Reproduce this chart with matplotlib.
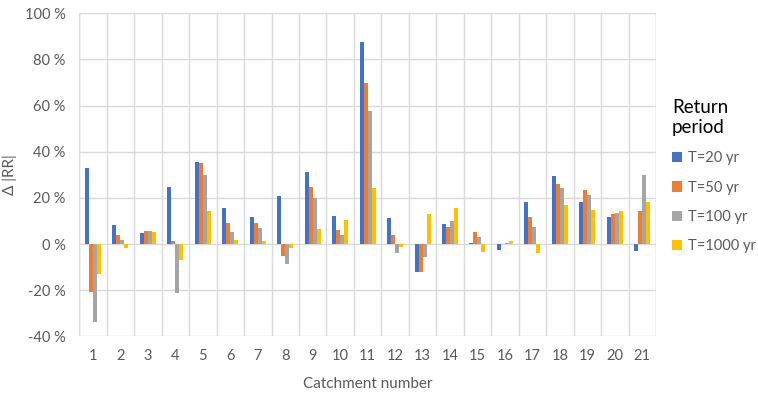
import matplotlib
matplotlib.use("Agg")
import matplotlib.pyplot as plt
import numpy as np
from matplotlib.ticker import FuncFormatter, MultipleLocator

catchments = [str(i) for i in range(1, 22)]
t20 = [32.8, 8.4, 4.9, 24.5, 35.4, 15.4, 11.9, 20.6, 31.0, 12.3, 87.5,
       11.4, -12.0, 8.8, 0.6, -2.5, 18.4, 29.3, 18.4, 11.9, -2.9]
t50 = [-20.7, 4.1, 5.8, 1.4, 34.9, 9.3, 9.3, -5.1, 24.5, 6.2, 69.7,
       4.1, -12.0, 7.5, 5.4, 0.0, 11.9, 26.2, 23.2, 13.2, 14.5]
t100 = [-33.8, 1.9, 5.8, -21.2, 30.1, 5.4, 7.1, -8.6, 20.1, 4.1, 57.5,
        -3.8, -5.5, 10.1, 3.2, 0.6, 7.5, 24.1, 21.4, 13.6, 29.7]
t1000 = [-12.9, -1.6, 5.4, -6.8, 14.5, 1.9, 1.4, -1.6, 6.7, 10.6, 24.1,
         -1.2, 12.8, 15.4, -3.3, 1.4, -3.8, 17.1, 14.9, 14.1, 18.0]
series_labels = ["T=20 yr", "T=50 yr", "T=100 yr", "T=1000 yr"]
colors = ["#4472C4", "#ED7D31", "#A5A5A5", "#FFC000"]

plt.rcParams['font.family'] = ['Lato', 'DejaVu Sans']
txt = "#595959"

fig = plt.figure(figsize=(7.58, 3.97), dpi=100)
ax = fig.add_axes([0.1046, 0.1529, 0.7608, 0.8136])

x = np.arange(len(catchments))
w = 0.146
for i, (vals, lab, c) in enumerate(zip([t20, t50, t100, t1000], series_labels, colors)):
    ax.bar(x + (i - 1.5) * w, np.array(vals) / 100.0, width=w, color=c, label=lab, zorder=3)

ax.set_xlim(-0.5, len(catchments) - 0.5)
ax.set_ylim(-0.4, 1.0)
ax.yaxis.set_major_locator(MultipleLocator(0.2))
ax.yaxis.set_major_formatter(FuncFormatter(lambda v, p: f"{round(v*100):d} %"))
ax.set_xticks(x)
ax.set_xticklabels(catchments)
ax.set_xticks(np.arange(-0.5, len(catchments), 1.0), minor=True)

ax.grid(True, axis='y', which='major', color='#d9d9d9', linewidth=1.0, zorder=0)
ax.grid(True, axis='x', which='minor', color='#d9d9d9', linewidth=1.0, zorder=0)
ax.grid(False, axis='x', which='major')
for s in ax.spines.values():
    s.set_visible(False)
ax.axvline(-0.5, color='#d9d9d9', linewidth=1.0, zorder=0)
ax.axvline(len(catchments) - 0.5, color='#d9d9d9', linewidth=1.0, zorder=0)
ax.tick_params(axis='both', which='both', length=0, colors=txt, labelsize=10.5)
ax.tick_params(axis='x', pad=9)
ax.tick_params(axis='y', pad=10)

ax.set_xlabel("Catchment number", color=txt, fontsize=11, labelpad=10)
ax.set_ylabel("Δ |RR|", color=txt, fontsize=11)
ax.yaxis.set_label_coords(-0.108, 0.5)

leg = ax.legend(loc='upper left', bbox_to_anchor=(1.005, 0.775), frameon=False,
                title="Return\nperiod", fontsize=10.5, handlelength=0.7, handleheight=0.7,
                handletextpad=0.4, labelspacing=1.05, alignment='left')
leg.get_title().set_fontsize(13.5)
leg.get_title().set_color('#000000')
for t in leg.get_texts():
    t.set_color(txt)

fig.savefig("out.png", dpi=100)
